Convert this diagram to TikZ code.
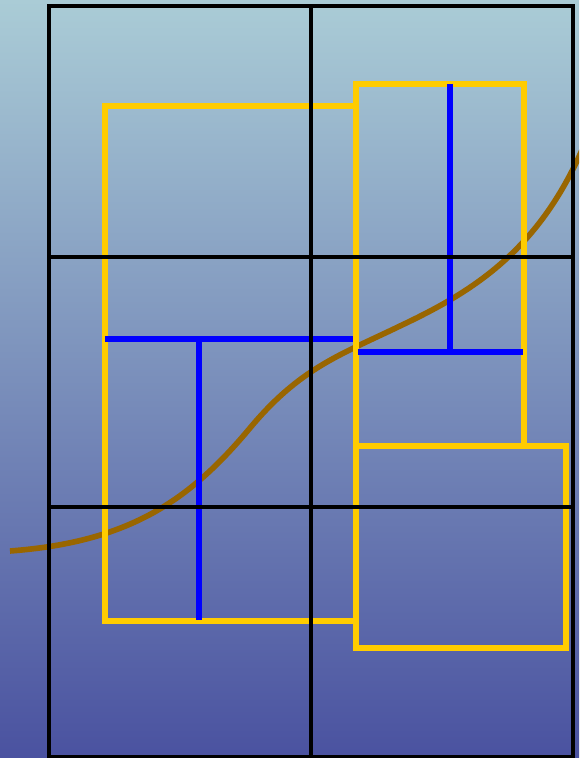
\documentclass[tikz,border=0pt]{standalone}
\usepackage{tikz}

\definecolor{skytop}{RGB}{170,204,214}
\definecolor{skybottom}{RGB}{74,82,160}
\definecolor{boxyellow}{RGB}{255,204,0}
\definecolor{curvebrown}{RGB}{153,102,0}

\begin{document}
\begin{tikzpicture}[x=0.03cm,y=-0.03cm,
    gridline/.style={black,line width=2.6pt},
    frame/.style={boxyellow,line width=5.3pt},
    bar/.style={blue,line width=4.4pt},
    trend/.style={curvebrown,line width=4.8pt}]
  % Background
  \useasboundingbox (0,0) rectangle (579,758);
  \shade[top color=skytop,bottom color=skybottom] (0,0) rectangle (579,758);
  \clip (0,0) rectangle (579,758);
  % Curve
  \draw[trend] (10,551) .. controls (130,542) and (190,500) .. (250,428)
    .. controls (300,368) and (340,355) .. (400,326)
    .. controls (472,292) and (537,252) .. (582,150);
  % Boxes
  \draw[frame] (105,106) rectangle (356,621);
  \draw[frame] (356,84) rectangle (524,446);
  \draw[frame] (356,446) rectangle (566,648);
  % Bars
  \draw[bar] (105,339) -- (353,339);
  \draw[bar] (199,339) -- (199,620);
  \draw[bar] (450,84) -- (450,352);
  \draw[bar] (358,352) -- (523,352);
  % Grid
  \draw[gridline] (49,6) rectangle (573,757);
  \draw[gridline] (311,6) -- (311,757);
  \draw[gridline] (49,257) -- (573,257);
  \draw[gridline] (49,507) -- (573,507);
\end{tikzpicture}
\end{document}
